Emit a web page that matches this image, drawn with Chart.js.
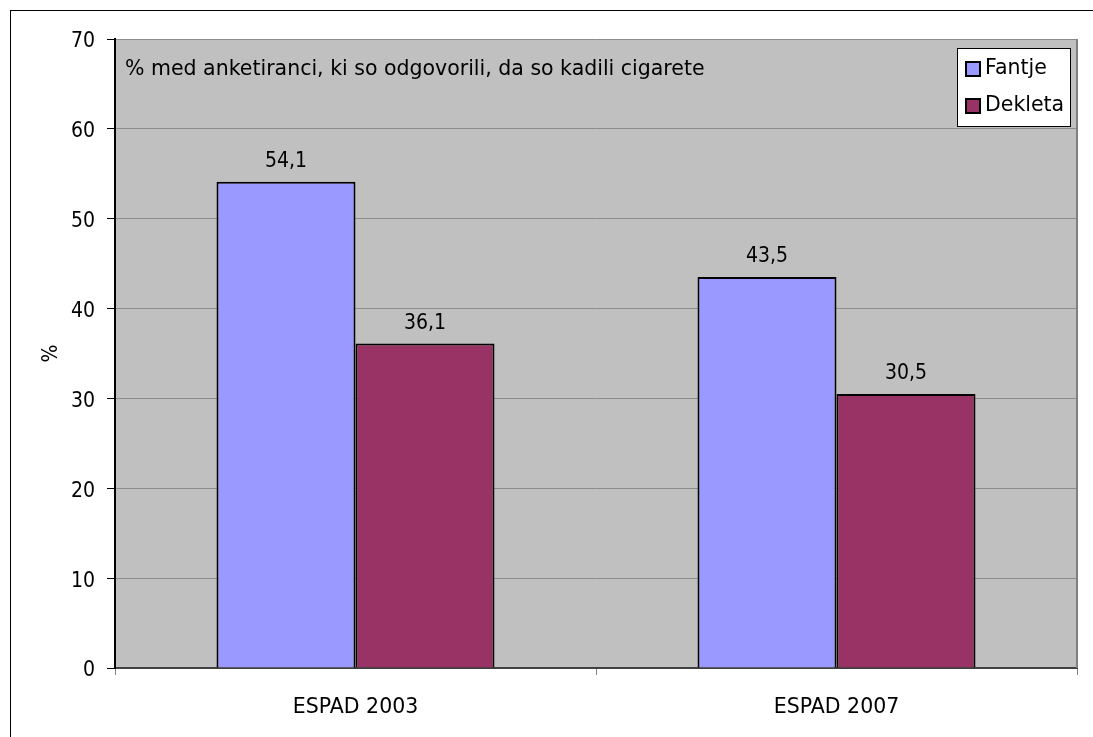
<!DOCTYPE html>
<html lang="sl">
<head>
    <meta charset="UTF-8">
    <script src="https://cdn.jsdelivr.net/npm/chart.js"></script>
    <title>ESPAD kajenje</title>
    <style>
        body { margin: 0; background: #fff; }
        #okvir { width: 1093px; height: 737px; }
    </style>
</head>
<body>
<div id="okvir">
    <canvas id="graficoKajenje" width="1093" height="737"></canvas>
</div>
<script>
    // podatki
    var kategorije = ["ESPAD 2003", "ESPAD 2007"]
    var fantje = [54.1, 43.5]
    var dekleta = [36.1, 30.5]
    var oznakeSerij = ["Fantje", "Dekleta"]
    var podnaslov = "% med anketiranci, ki so odgovorili, da so kadili cigarete"
    var naslovY = "%"

    var pisavaOzka = "'DejaVu Sans Condensed', 'DejaVu Sans', sans-serif"
    var pisava = "'DejaVu Sans', sans-serif"
    Chart.defaults.font.family = pisavaOzka
    Chart.defaults.color = "#000"

    // ozadje, okvir, oznake vrednosti in legenda
    const risanje = {
        id: 'risanje',
        beforeDraw(chart) {
            const ctx = chart.ctx
            const a = chart.chartArea
            ctx.save()
            ctx.fillStyle = "#fff"
            ctx.fillRect(0, 0, chart.width, chart.height)
            ctx.strokeStyle = "#000"
            ctx.lineWidth = 1
            ctx.strokeRect(10.5, 10.5, 1200, 1000)
            ctx.fillStyle = "#c0c0c0"
            ctx.fillRect(a.left, a.top, a.right - a.left, a.bottom - a.top)
            ctx.restore()
        },
        afterDraw(chart) {
            const ctx = chart.ctx
            const a = chart.chartArea
            ctx.save()
            // desni rob
            ctx.strokeStyle = "#808080"
            ctx.lineWidth = 2
            ctx.beginPath()
            ctx.moveTo(a.right, a.top)
            ctx.lineTo(a.right, a.bottom)
            ctx.stroke()

            // vrednosti nad stolpci
            ctx.font = "21px " + pisavaOzka
            ctx.fillStyle = "#000"
            ctx.textAlign = "center"
            ctx.textBaseline = "bottom"
            chart.data.datasets.forEach(function (ds, i) {
                chart.getDatasetMeta(i).data.forEach(function (bar, j) {
                    var t = ds.data[j].toFixed(1).replace(".", ",")
                    ctx.fillText(t, bar.x, bar.y - 10)
                })
            })

            // podnaslov v risalni povrsini
            ctx.font = "20.5px " + pisava
            ctx.textAlign = "left"
            ctx.textBaseline = "middle"
            ctx.fillText(podnaslov, a.left + 10, 70)

            // legenda
            ctx.font = "20.5px " + pisava
            ctx.fillStyle = "#fff"
            ctx.fillRect(957, 48, 113, 78)
            ctx.strokeStyle = "#000"
            ctx.lineWidth = 1
            ctx.strokeRect(957.5, 48.5, 113, 78)
            chart.data.datasets.forEach(function (ds, i) {
                var y = 69 + i * 37
                ctx.fillStyle = ds.backgroundColor
                ctx.fillRect(966, y - 7, 14, 14)
                ctx.strokeStyle = "#000"
                ctx.lineWidth = 2
                ctx.strokeRect(966, y - 7, 14, 14)
                ctx.fillStyle = "#000"
                ctx.fillText(ds.label, 985, y)
            })
            ctx.restore()
        }
    }

    new Chart(graficoKajenje, {
        type: 'bar',
        data: {
            labels: kategorije,
            datasets: [{
                label: oznakeSerij[0],
                data: fantje,
                backgroundColor: "#9999ff",
                borderColor: "#000",
                borderWidth: 2,
                barPercentage: 1,
                categoryPercentage: 0.578
            }, {
                label: oznakeSerij[1],
                data: dekleta,
                backgroundColor: "#993366",
                borderColor: "#000",
                borderWidth: 2,
                barPercentage: 1,
                categoryPercentage: 0.578
            }]
        },
        options: {
            responsive: false,
            animation: false,
            events: [],
            layout: {
                padding: { left: 0, top: 39, right: 16, bottom: 0 }
            },
            plugins: {
                legend: { display: false },
                title: { display: false },
                tooltip: { enabled: false }
            },
            scales: {
                x: {
                    afterFit: function (s) { s.height = 69 },
                    grid: {
                        drawOnChartArea: false,
                        tickLength: 7,
                        tickColor: "#808080",
                        offset: true
                    },
                    border: { color: "#404040", width: 2 },
                    ticks: {
                        color: "#000",
                        padding: 20,
                        font: { size: 20.5, family: pisava }
                    }
                },
                y: {
                    min: 0,
                    max: 70,
                    afterFit: function (s) { s.width = 115 },
                    grid: {
                        color: "#8c8c8c",
                        tickColor: "#000",
                        tickLength: 8,
                        lineWidth: 1
                    },
                    border: { color: "#000", width: 2 },
                    ticks: {
                        stepSize: 10,
                        color: "#000",
                        padding: 12,
                        labelOffset: 3,
                        font: { size: 21 }
                    },
                    title: {
                        display: true,
                        text: naslovY,
                        color: "#000",
                        padding: { top: 39, bottom: 0 },
                        font: { size: 21 }
                    }
                }
            }
        },
        plugins: [risanje]
    })
</script>
</body>
</html>
